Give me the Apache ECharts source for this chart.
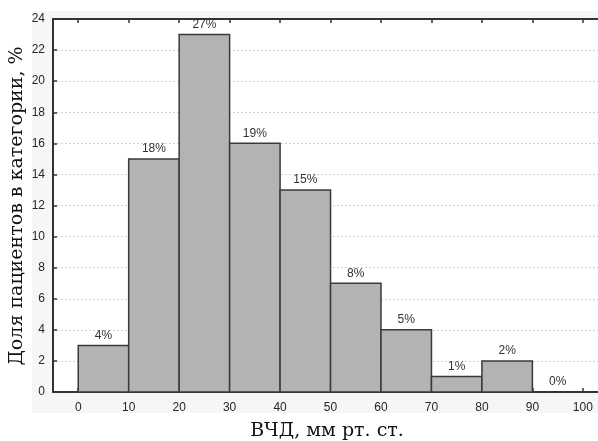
<!DOCTYPE html>
<html><head><meta charset="utf-8">
<script src="https://cdn.jsdelivr.net/npm/echarts@6/dist/echarts.min.js"></script>
<style>html,body{margin:0;padding:0;background:#fff}#c{width:598px;height:441px}</style>
</head><body><div id="c"></div>
<script>
const binStart = [0, 10, 20, 30, 40, 50, 60, 70, 80, 90];
const binEnd = [10, 20, 30, 40, 50, 60, 70, 80, 90, 100];
const values = [3, 15, 23, 16, 13, 7, 4, 1, 2, 0];
const pctLabels = ['4%', '18%', '27%', '19%', '15%', '8%', '5%', '1%', '2%', '0%'];
const xTicks = [0, 10, 20, 30, 40, 50, 60, 70, 80, 90, 100];
const xTitle = 'ВЧД, мм рт. ст.';
const yTitle = 'Доля пациентов в категории, %';

const chart = echarts.init(document.getElementById('c'), null, {renderer: 'canvas'});
const data = binStart.map((s, i) => [s, binEnd[i], values[i], pctLabels[i]]);
const tickFont = {color: '#262626', fontSize: 12, fontFamily: 'Liberation Sans, Arial, sans-serif'};
const titleFont = '19px "DejaVu Serif", serif';
chart.setOption({
  animation: false,
  backgroundColor: '#fff',
  graphic: [
    {type: 'rect', z: -10, silent: true, shape: {x: 32, y: 11, width: 566, height: 402}, style: {fill: '#f6f6f6'}},
    {type: 'text', z: 10, style: {text: xTitle, x: 327, y: 431, textAlign: 'center', textVerticalAlign: 'middle', font: titleFont, fill: '#111'}},
    {type: 'text', z: 10, rotation: Math.PI / 2, x: 17, y: 206, style: {text: yTitle, x: 0, y: 0, textAlign: 'center', textVerticalAlign: 'middle', font: titleFont, fill: '#111'}}
  ],
  grid: {left: 53, right: 0, top: 19, bottom: 49, show: true, backgroundColor: '#fff', borderWidth: 0},
  xAxis: [{
    type: 'value', min: -5, max: 103, position: 'bottom',
    axisLine: {show: true, onZero: false, lineStyle: {color: '#333', width: 2}},
    axisTick: {show: true, inside: true, length: 4, customValues: xTicks, lineStyle: {color: '#333', width: 1.5}},
    axisLabel: {customValues: xTicks, margin: 10, ...tickFont},
    splitLine: {show: false}
  }, {
    type: 'value', min: -5, max: 103, position: 'top',
    axisLine: {show: true, onZero: false, lineStyle: {color: '#333', width: 2}},
    axisTick: {show: true, inside: true, length: 4, customValues: xTicks, lineStyle: {color: '#333', width: 1.5}},
    axisLabel: {show: false},
    splitLine: {show: false}
  }],
  yAxis: {
    type: 'value', min: 0, max: 24, interval: 2,
    axisLine: {show: true, onZero: false, lineStyle: {color: '#333', width: 2}},
    axisTick: {show: true, inside: true, length: 4, lineStyle: {color: '#333', width: 1.5}},
    axisLabel: {margin: 8, ...tickFont},
    splitLine: {show: true, lineStyle: {color: '#d0d0d0', type: [2, 2], width: 1}}
  },
  series: [{
    type: 'custom',
    data: data,
    encode: {x: [0, 1], y: 2},
    renderItem: function (params, api) {
      const x0 = api.value(0), x1 = api.value(1), v = api.value(2);
      const lab = pctLabels[params.dataIndex];
      const p0 = api.coord([x0, v]);
      const p1 = api.coord([x1, 0]);
      const children = [];
      if (v > 0) {
        children.push({type: 'rect', shape: {x: p0[0], y: p0[1], width: p1[0] - p0[0], height: p1[1] - p0[1]},
          style: {fill: '#b3b3b3', stroke: '#3a3a3a', lineWidth: 1.5}});
      }
      children.push({type: 'text', z2: 5, style: {text: lab, x: (p0[0] + p1[0]) / 2, y: p0[1] - 4,
        textAlign: 'center', textVerticalAlign: 'bottom', font: '12px "Liberation Sans", Arial, sans-serif', fill: '#333'}});
      return {type: 'group', children: children};
    }
  }]
});
</script></body></html>
